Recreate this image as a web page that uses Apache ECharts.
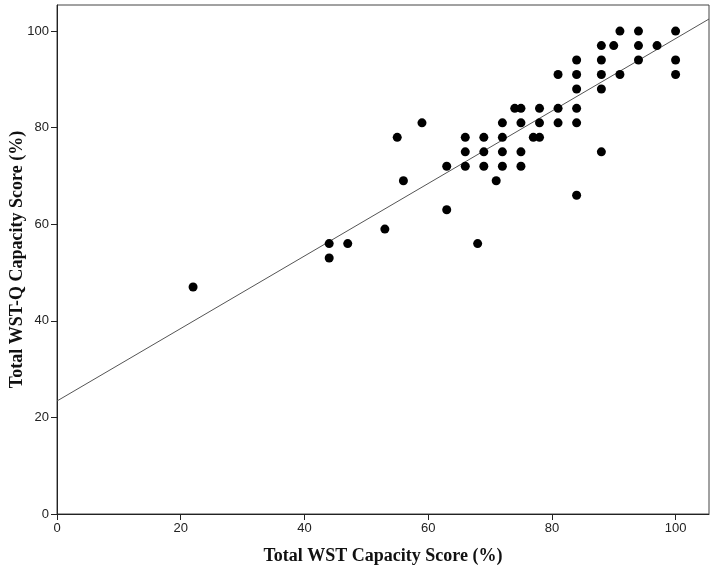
<!DOCTYPE html>
<html>
<head>
<meta charset="utf-8">
<script src="https://cdn.jsdelivr.net/npm/echarts@6/dist/echarts.min.js"></script>
<style>
  html, body { margin: 0; padding: 0; background: #fff; }
  #chart { width: 714px; height: 573px; }
</style>
</head>
<body>
<div id="chart"></div>
<script>
// WST capacity score vs WST-Q capacity score (%)
const wstScore = [22, 44, 44, 47, 53, 55, 56, 59, 63, 63, 66, 66, 66, 68, 69, 69, 69, 71, 72, 72, 72, 72, 74, 75, 75, 75, 75, 77, 78, 78, 78, 81, 81, 81, 84, 84, 84, 84, 84, 84, 88, 88, 88, 88, 88, 90, 91, 91, 94, 94, 94, 97, 100, 100, 100];
const wstqScore = [47, 56, 53, 56, 59, 78, 69, 81, 72, 63, 78, 75, 72, 56, 78, 75, 72, 69, 81, 78, 75, 72, 84, 84, 81, 75, 72, 78, 78, 84, 81, 91, 84, 81, 94, 91, 88, 84, 81, 66, 97, 94, 91, 88, 75, 97, 100, 91, 100, 97, 94, 97, 100, 94, 91];
// fit line end points
const fitLine = [[0, 23.4], [105.4, 102.5]];
const xTicks = [0, 20, 40, 60, 80, 100];
const yTicks = [0, 20, 40, 60, 80, 100];

const points = wstScore.map((x, i) => [x, wstqScore[i]]);

const chart = echarts.init(document.getElementById('chart'));

function makeAxis(name, ticks, gap) {
  return {
    type: 'value',
    min: 0,
    max: 105.4,
    interval: 20,
    name: name,
    nameLocation: 'middle',
    nameGap: gap,
    nameMoveOverlap: false,
    nameTextStyle: {
      fontFamily: 'Liberation Serif',
      fontWeight: 'bold',
      fontSize: 18,
      color: '#111'
    },
    axisLine: { show: true, lineStyle: { color: '#222', width: 1 } },
    axisTick: {
      show: true,
      length: 6,
      customValues: ticks,
      lineStyle: { color: '#222', width: 1 }
    },
    axisLabel: {
      customValues: ticks,
      margin: 8,
      fontFamily: 'Liberation Sans',
      fontSize: 13,
      color: '#222'
    },
    splitLine: { show: false }
  };
}

chart.setOption({
  animation: false,
  backgroundColor: '#fff',
  grid: {
    left: 57,
    right: 5,
    top: 5,
    bottom: 59,
    outerBoundsMode: 'none',
    show: true,
    borderColor: '#444',
    borderWidth: 1
  },
  xAxis: makeAxis('Total WST Capacity Score (%)', xTicks, 33),
  yAxis: makeAxis('Total WST-Q Capacity Score (%)', yTicks, 31),
  series: [
    {
      type: 'line',
      data: fitLine,
      symbol: 'none',
      silent: true,
      lineStyle: { color: '#555', width: 1 },
      z: 1
    },
    {
      type: 'scatter',
      data: points,
      symbol: 'circle',
      symbolSize: 9,
      itemStyle: { color: '#000', opacity: 1 },
      z: 2
    }
  ]
});
</script>
</body>
</html>
